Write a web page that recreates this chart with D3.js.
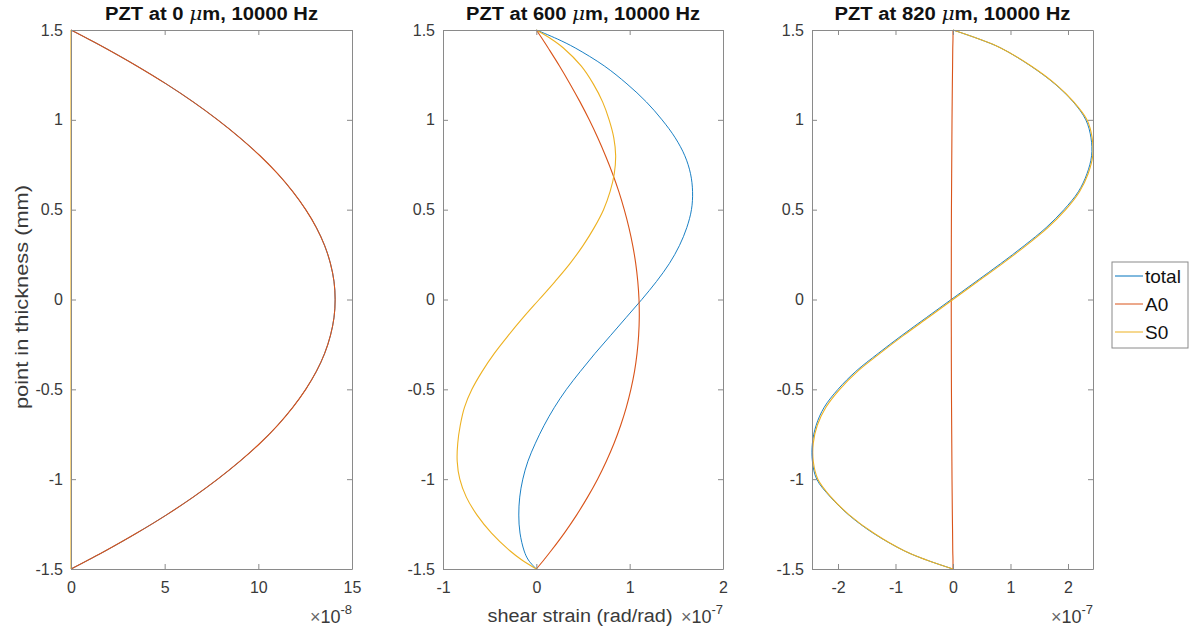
<!DOCTYPE html>
<html><head><meta charset="utf-8">
<script src="https://cdn.jsdelivr.net/npm/d3@7"></script>
<style>
body{margin:0;background:#fff;}
text{font-family:"Liberation Sans",Arial,Helvetica,sans-serif;fill:#262626;}
</style>
</head><body>
<svg id="chart" width="1191" height="632"></svg>
<script>
// ---- data ----
const thickness = [1.5,1.45,1.4,1.3,1.2,1.1,1.0,0.9,0.8,0.7,0.6,0.5,0.4,0.3,0.2,0.1,0,
  -0.1,-0.2,-0.3,-0.4,-0.5,-0.6,-0.7,-0.8,-0.9,-1.0,-1.1,-1.2,-1.3,-1.4,-1.45,-1.5];
const seriesNames = ["total","A0","S0"];
const yTicks = [-1.5,-1,-0.5,0,0.5,1,1.5];
const titles = ["PZT at 0 ", "PZT at 600 ", "PZT at 820 "];
const titleTail = "m, 10000 Hz";
const xTicks = [[0,5,10,15],[-1,0,1,2],[-2,-1,0,1,2]];
const xDomains = [[0,15],[-1,2],[-2.452,2.435]];
const xExponents = ["-8","-7","-7"];
const xLabel = "shear strain (rad/rad)";
const yLabel = "point in thickness (mm)";

// panel 1 (x 1e-8)
const a0_0 = [0,0.92,1.82,3.51,5.08,6.52,7.83,9.02,10.09,11.03,11.84,12.53,13.10,13.54,13.85,14.04,14.1,
  14.04,13.85,13.54,13.10,12.53,11.84,11.03,10.09,9.02,7.83,6.52,5.08,3.51,1.82,0.92,0];
const s0_0 = [0,0,0,0,0,0,0,0,0,0,0,0,0,0,0,0,0,0,0,0,0,0,0,0,0,0,0,0,0,0,0,0,0];
const total_0 = [0,0.92,1.82,3.51,5.08,6.52,7.83,9.02,10.09,11.03,11.84,12.53,13.10,13.54,13.85,14.04,14.1,
  14.04,13.85,13.54,13.10,12.53,11.84,11.03,10.09,9.02,7.83,6.52,5.08,3.51,1.82,0.92,0];

// panel 2 (x 1e-7)
const a0_600 = [0,0.065,0.127,0.248,0.361,0.468,0.567,0.658,0.741,0.817,0.884,0.942,0.992,1.033,1.065,1.087,1.1,
  1.103,1.096,1.079,1.052,1.013,0.964,0.904,0.833,0.750,0.656,0.549,0.431,0.300,0.156,0.080,0];
const s0_600 = [0,0.16,0.29,0.48,0.61,0.71,0.78,0.83,0.85,0.835,0.79,0.72,0.62,0.50,0.36,0.20,0.03,
  -0.14,-0.30,-0.45,-0.58,-0.69,-0.77,-0.815,-0.842,-0.848,-0.82,-0.75,-0.635,-0.48,-0.28,-0.155,0];
const total_600 = [0,0.225,0.417,0.728,0.971,1.178,1.347,1.488,1.591,1.652,1.674,1.662,1.612,1.533,1.425,1.287,1.13,
  0.963,0.796,0.629,0.472,0.323,0.194,0.084,-0.01,-0.09,-0.145,-0.178,-0.188,-0.175,-0.13,-0.085,0];

// panel 3 (x 1e-7)
const a0_820 = [0,0,-0.004,-0.007,-0.011,-0.014,-0.017,-0.019,-0.021,-0.023,-0.025,-0.027,-0.028,-0.029,-0.029,-0.03,-0.03,
  -0.03,-0.029,-0.029,-0.028,-0.027,-0.025,-0.023,-0.021,-0.019,-0.017,-0.014,-0.011,-0.007,-0.004,0,0];
const s0_820 = [0,0.45,0.83,1.36,1.78,2.10,2.33,2.42,2.43,2.35,2.20,1.96,1.65,1.27,0.86,0.43,0,
  -0.43,-0.86,-1.27,-1.66,-1.97,-2.21,-2.36,-2.43,-2.43,-2.35,-2.12,-1.80,-1.38,-0.84,-0.46,0];
const total_820 = [0,0.45,0.83,1.35,1.77,2.09,2.31,2.40,2.41,2.33,2.18,1.93,1.62,1.24,0.83,0.40,-0.03,
  -0.46,-0.89,-1.30,-1.69,-2.00,-2.24,-2.38,-2.445,-2.445,-2.37,-2.13,-1.81,-1.39,-0.84,-0.46,0];

const panels = [
  {series:[total_0,a0_0,s0_0]},
  {series:[total_600,a0_600,s0_600]},
  {series:[total_820,a0_820,s0_820]}
];
const colors = ["#0072BD","#D95319","#EDB120"];
const widths = [0.9,1.1,1.1];

// ---- layout ----
const lefts = [71,443,812], rights = [352,723,1093];
const titleWidths = [213,234,236];
const plotTop = 30, plotBottom = 569;
const svg = d3.select("#chart");
const y = d3.scaleLinear().domain([-1.5,1.5]).range([plotBottom, plotTop]);
const fmt = d => String(d);

panels.forEach((p,i) => {
  const x = d3.scaleLinear().domain(xDomains[i]).range([lefts[i], rights[i]]);
  const g = svg.append("g");
  const axisCol = "#8a8a8a";

  const clipId = "clip"+i;
  svg.append("clipPath").attr("id",clipId).append("rect")
    .attr("x",lefts[i]-1).attr("y",plotTop-1).attr("width",rights[i]-lefts[i]+2).attr("height",plotBottom-plotTop+2);

  const line = d3.line().x(d=>x(d[0])).y(d=>y(d[1])).curve(d3.curveCatmullRom.alpha(0.5));
  p.series.forEach((s,k) => {
    const pts = s.map((v,j)=>[v, thickness[j]]);
    g.append("path").attr("d",line(pts)).attr("fill","none")
      .attr("stroke",colors[k]).attr("stroke-width",widths[k])
      .attr("clip-path","url(#"+clipId+")");
  });

  // axes
  const ax = d3.axisBottom(x).tickValues(xTicks[i]).tickFormat(fmt).tickSizeInner(-5).tickSizeOuter(0).tickPadding(13);
  const axG = g.append("g").attr("transform",`translate(0,${plotBottom})`).call(ax);
  const axT = g.append("g").attr("transform",`translate(0,${plotTop})`)
    .call(d3.axisTop(x).tickValues(xTicks[i]).tickFormat("").tickSizeInner(-5).tickSizeOuter(0));
  const ayL = g.append("g").attr("transform",`translate(${lefts[i]},0)`)
    .call(d3.axisLeft(y).tickValues(yTicks).tickFormat(fmt).tickSizeInner(-5).tickSizeOuter(0).tickPadding(8));
  const ayR = g.append("g").attr("transform",`translate(${rights[i]},0)`)
    .call(d3.axisRight(y).tickValues(yTicks).tickFormat("").tickSizeInner(-5).tickSizeOuter(0));
  [axG,axT,ayL,ayR].forEach(a => {
    a.selectAll("path.domain").attr("stroke",axisCol);
    a.selectAll(".tick line").attr("stroke",axisCol);
    a.selectAll(".tick text").attr("font-size",16).style("fill","#3a3a3a")
      .style("font-family",'"Liberation Sans",Arial,sans-serif');
  });

  // title
  const cx = (lefts[i]+rights[i])/2;
  const t = g.append("text").attr("x",cx).attr("y",20).attr("text-anchor","middle")
    .attr("font-size",18).attr("font-weight","bold").style("fill","#111")
    .attr("textLength",titleWidths[i]).attr("lengthAdjust","spacingAndGlyphs");
  t.append("tspan").text(titles[i]);
  t.append("tspan").attr("font-style","italic").attr("font-weight","normal").attr("font-family","DejaVu Serif, serif").text("\u03bc");
  t.append("tspan").text(titleTail);

  // exponent
  const e = g.append("text").attr("x",rights[i]).attr("y",623).attr("text-anchor","end").attr("font-size",18);
  e.append("tspan").text("\u00d7").style("fill","#666");
  e.append("tspan").text("10").style("fill","#3a3a3a");
  e.append("tspan").attr("dy",-9).attr("font-size",13).style("fill","#3a3a3a").text(xExponents[i]);
});

// x label (middle panel)
svg.append("text").attr("x",580).attr("y",622).attr("text-anchor","middle").attr("font-size",18)
  .style("fill","#3a3a3a")
  .attr("textLength",185).attr("lengthAdjust","spacingAndGlyphs").text(xLabel);
// y label
svg.append("text").attr("transform","translate(28,297) rotate(-90)").attr("text-anchor","middle")
  .attr("font-size",18).style("fill","#3a3a3a")
  .attr("textLength",224).attr("lengthAdjust","spacingAndGlyphs").text(yLabel);

// legend
const lg = svg.append("g");
lg.append("rect").attr("x",1112).attr("y",262).attr("width",76).attr("height",86)
  .attr("fill","#fff").attr("stroke","#8a8a8a").attr("stroke-width",1);
seriesNames.forEach((n,k) => {
  const yy = 276 + k*28;
  lg.append("line").attr("x1",1115).attr("x2",1143).attr("y1",yy).attr("y2",yy)
    .attr("stroke",colors[k]).attr("stroke-width",1);
  lg.append("text").attr("x",1145).attr("y",yy+7).attr("font-size",19).style("fill","#111").text(n);
});
</script>
</body></html>
